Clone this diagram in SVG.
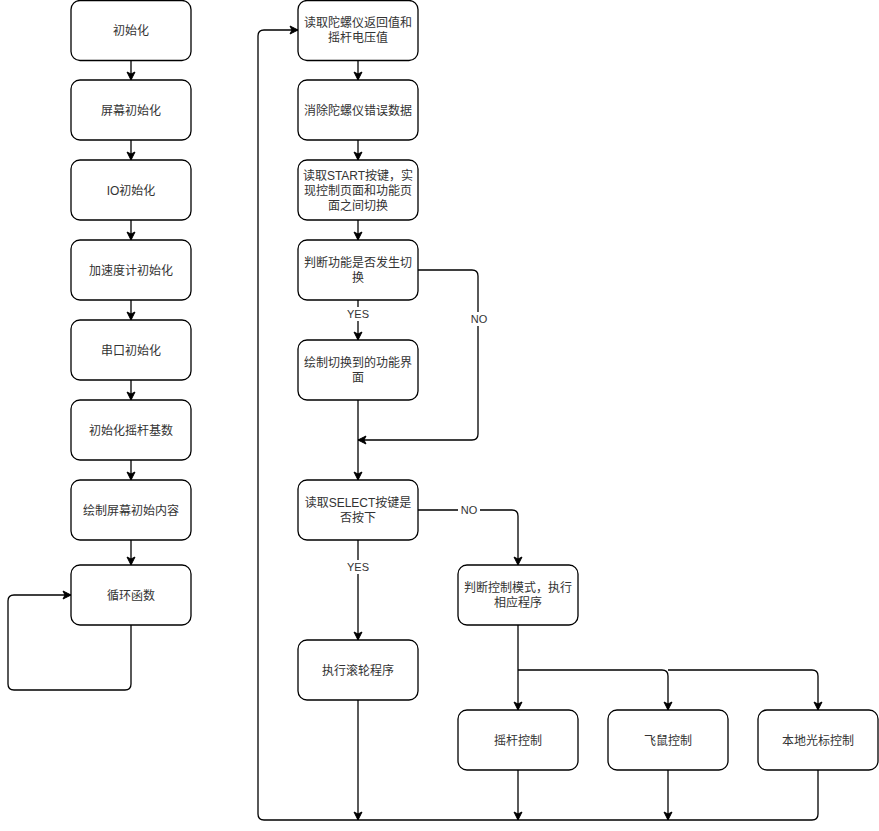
<svg xmlns="http://www.w3.org/2000/svg" width="879" height="831" viewBox="0 0 879 831">
<style>
.n rect{fill:#fff;stroke:#000;stroke-width:1.3}
.n text,.lbl{font-family:"Liberation Sans","Noto Sans CJK SC",sans-serif;font-size:12px;fill:#333;text-anchor:middle}
.lbl{font-size:11px}
.e{fill:none;stroke:#000;stroke-width:1.3}
</style>
<defs>
<marker id="a" markerUnits="userSpaceOnUse" markerWidth="10" markerHeight="10" viewBox="0 0 10 10" refX="9" refY="5" orient="auto">
<path d="M1,1 L9,5 L1,9 L3,5 z" fill="#000" stroke="#000" stroke-width="1"/>
</marker>
</defs>
<rect width="879" height="831" fill="#fff"/>
<g id="edges">
<path class="e" marker-end="url(#a)" d="M131,60 V80"/>
<path class="e" marker-end="url(#a)" d="M131,140 V160"/>
<path class="e" marker-end="url(#a)" d="M131,220 V240"/>
<path class="e" marker-end="url(#a)" d="M131,300 V320"/>
<path class="e" marker-end="url(#a)" d="M131,380 V400"/>
<path class="e" marker-end="url(#a)" d="M131,460 V480"/>
<path class="e" marker-end="url(#a)" d="M131,540 V565"/>
<path class="e" marker-end="url(#a)" d="M131,625 V684 Q131,690 125,690 H14 Q8,690 8,684 V601 Q8,595 14,595 H71"/>
<path class="e" marker-end="url(#a)" d="M358,60 V80"/>
<path class="e" marker-end="url(#a)" d="M358,140 V160"/>
<path class="e" marker-end="url(#a)" d="M358,220 V240"/>
<path class="e" marker-end="url(#a)" d="M358,300 V340"/>
<path class="e" marker-end="url(#a)" d="M418,270 H472 Q478,270 478,276 V434 Q478,440 472,440 H358"/>
<path class="e" marker-end="url(#a)" d="M358,400 V480"/>
<path class="e" marker-end="url(#a)" d="M418,510 H512 Q518,510 518,516 V565"/>
<path class="e" marker-end="url(#a)" d="M358,540 V640"/>
<path class="e" marker-end="url(#a)" d="M518,625 V710"/>
<path class="e" marker-end="url(#a)" d="M518,670 H662 Q668,670 668,676 V710"/>
<path class="e" marker-end="url(#a)" d="M668,670 H812 Q818,670 818,676 V710"/>
<path class="e" marker-end="url(#a)" d="M358,700 V820"/>
<path class="e" marker-end="url(#a)" d="M518,770 V820"/>
<path class="e" marker-end="url(#a)" d="M668,770 V820"/>
<path class="e" marker-end="url(#a)" d="M818,770 V814 Q818,820 812,820 H264 Q258,820 258,814 V36 Q258,30 264,30 H298"/>
<rect x="344" y="307" width="28" height="14" fill="#fff"/>
<text class="lbl" x="358" y="318">YES</text>
<rect x="468" y="312" width="20" height="14" fill="#fff"/>
<text class="lbl" x="479" y="323">NO</text>
<rect x="458" y="503" width="22" height="14" fill="#fff"/>
<text class="lbl" x="469" y="514">NO</text>
<rect x="344" y="560" width="28" height="14" fill="#fff"/>
<text class="lbl" x="358" y="571">YES</text>
</g>
<g id="n1" class="n"><rect x="71" y="0.5" width="120" height="60" rx="9"/><text x="131" y="35">初始化</text></g>
<g id="n2" class="n"><rect x="71" y="80" width="120" height="60" rx="9"/><text x="131" y="115">屏幕初始化</text></g>
<g id="n3" class="n"><rect x="71" y="160" width="120" height="60" rx="9"/><text x="131" y="195">IO初始化</text></g>
<g id="n4" class="n"><rect x="71" y="240" width="120" height="60" rx="9"/><text x="131" y="275">加速度计初始化</text></g>
<g id="n5" class="n"><rect x="71" y="320" width="120" height="60" rx="9"/><text x="131" y="355">串口初始化</text></g>
<g id="n6" class="n"><rect x="71" y="400" width="120" height="60" rx="9"/><text x="131" y="435">初始化摇杆基数</text></g>
<g id="n7" class="n"><rect x="71" y="480" width="120" height="60" rx="9"/><text x="131" y="515">绘制屏幕初始内容</text></g>
<g id="n8" class="n"><rect x="71" y="565" width="120" height="60" rx="9"/><text x="131" y="600">循环函数</text></g>
<g id="r1" class="n"><rect x="298" y="0.5" width="120" height="60" rx="9"/><text x="358" y="27">读取陀螺仪返回值和</text><text x="358" y="42">摇杆电压值</text></g>
<g id="r2" class="n"><rect x="298" y="80" width="120" height="60" rx="9"/><text x="358" y="115">消除陀螺仪错误数据</text></g>
<g id="r3" class="n"><rect x="298" y="160" width="120" height="60" rx="9"/><text x="358" y="180">读取START按键，实</text><text x="358" y="195">现控制页面和功能页</text><text x="358" y="210">面之间切换</text></g>
<g id="r4" class="n"><rect x="298" y="240" width="120" height="60" rx="9"/><text x="358" y="267">判断功能是否发生切</text><text x="358" y="282">换</text></g>
<g id="r5" class="n"><rect x="298" y="340" width="120" height="60" rx="9"/><text x="358" y="367">绘制切换到的功能界</text><text x="358" y="382">面</text></g>
<g id="r6" class="n"><rect x="298" y="480" width="120" height="60" rx="9"/><text x="358" y="507">读取SELECT按键是</text><text x="358" y="522">否按下</text></g>
<g id="r7" class="n"><rect x="298" y="640" width="120" height="60" rx="9"/><text x="358" y="675">执行滚轮程序</text></g>
<g id="m1" class="n"><rect x="458" y="565" width="120" height="60" rx="9"/><text x="518" y="592">判断控制模式，执行</text><text x="518" y="607">相应程序</text></g>
<g id="b1" class="n"><rect x="458" y="710" width="120" height="60" rx="9"/><text x="518" y="745">摇杆控制</text></g>
<g id="b2" class="n"><rect x="608" y="710" width="120" height="60" rx="9"/><text x="668" y="745">飞鼠控制</text></g>
<g id="b3" class="n"><rect x="758" y="710" width="120" height="60" rx="9"/><text x="818" y="745">本地光标控制</text></g>
</svg>
